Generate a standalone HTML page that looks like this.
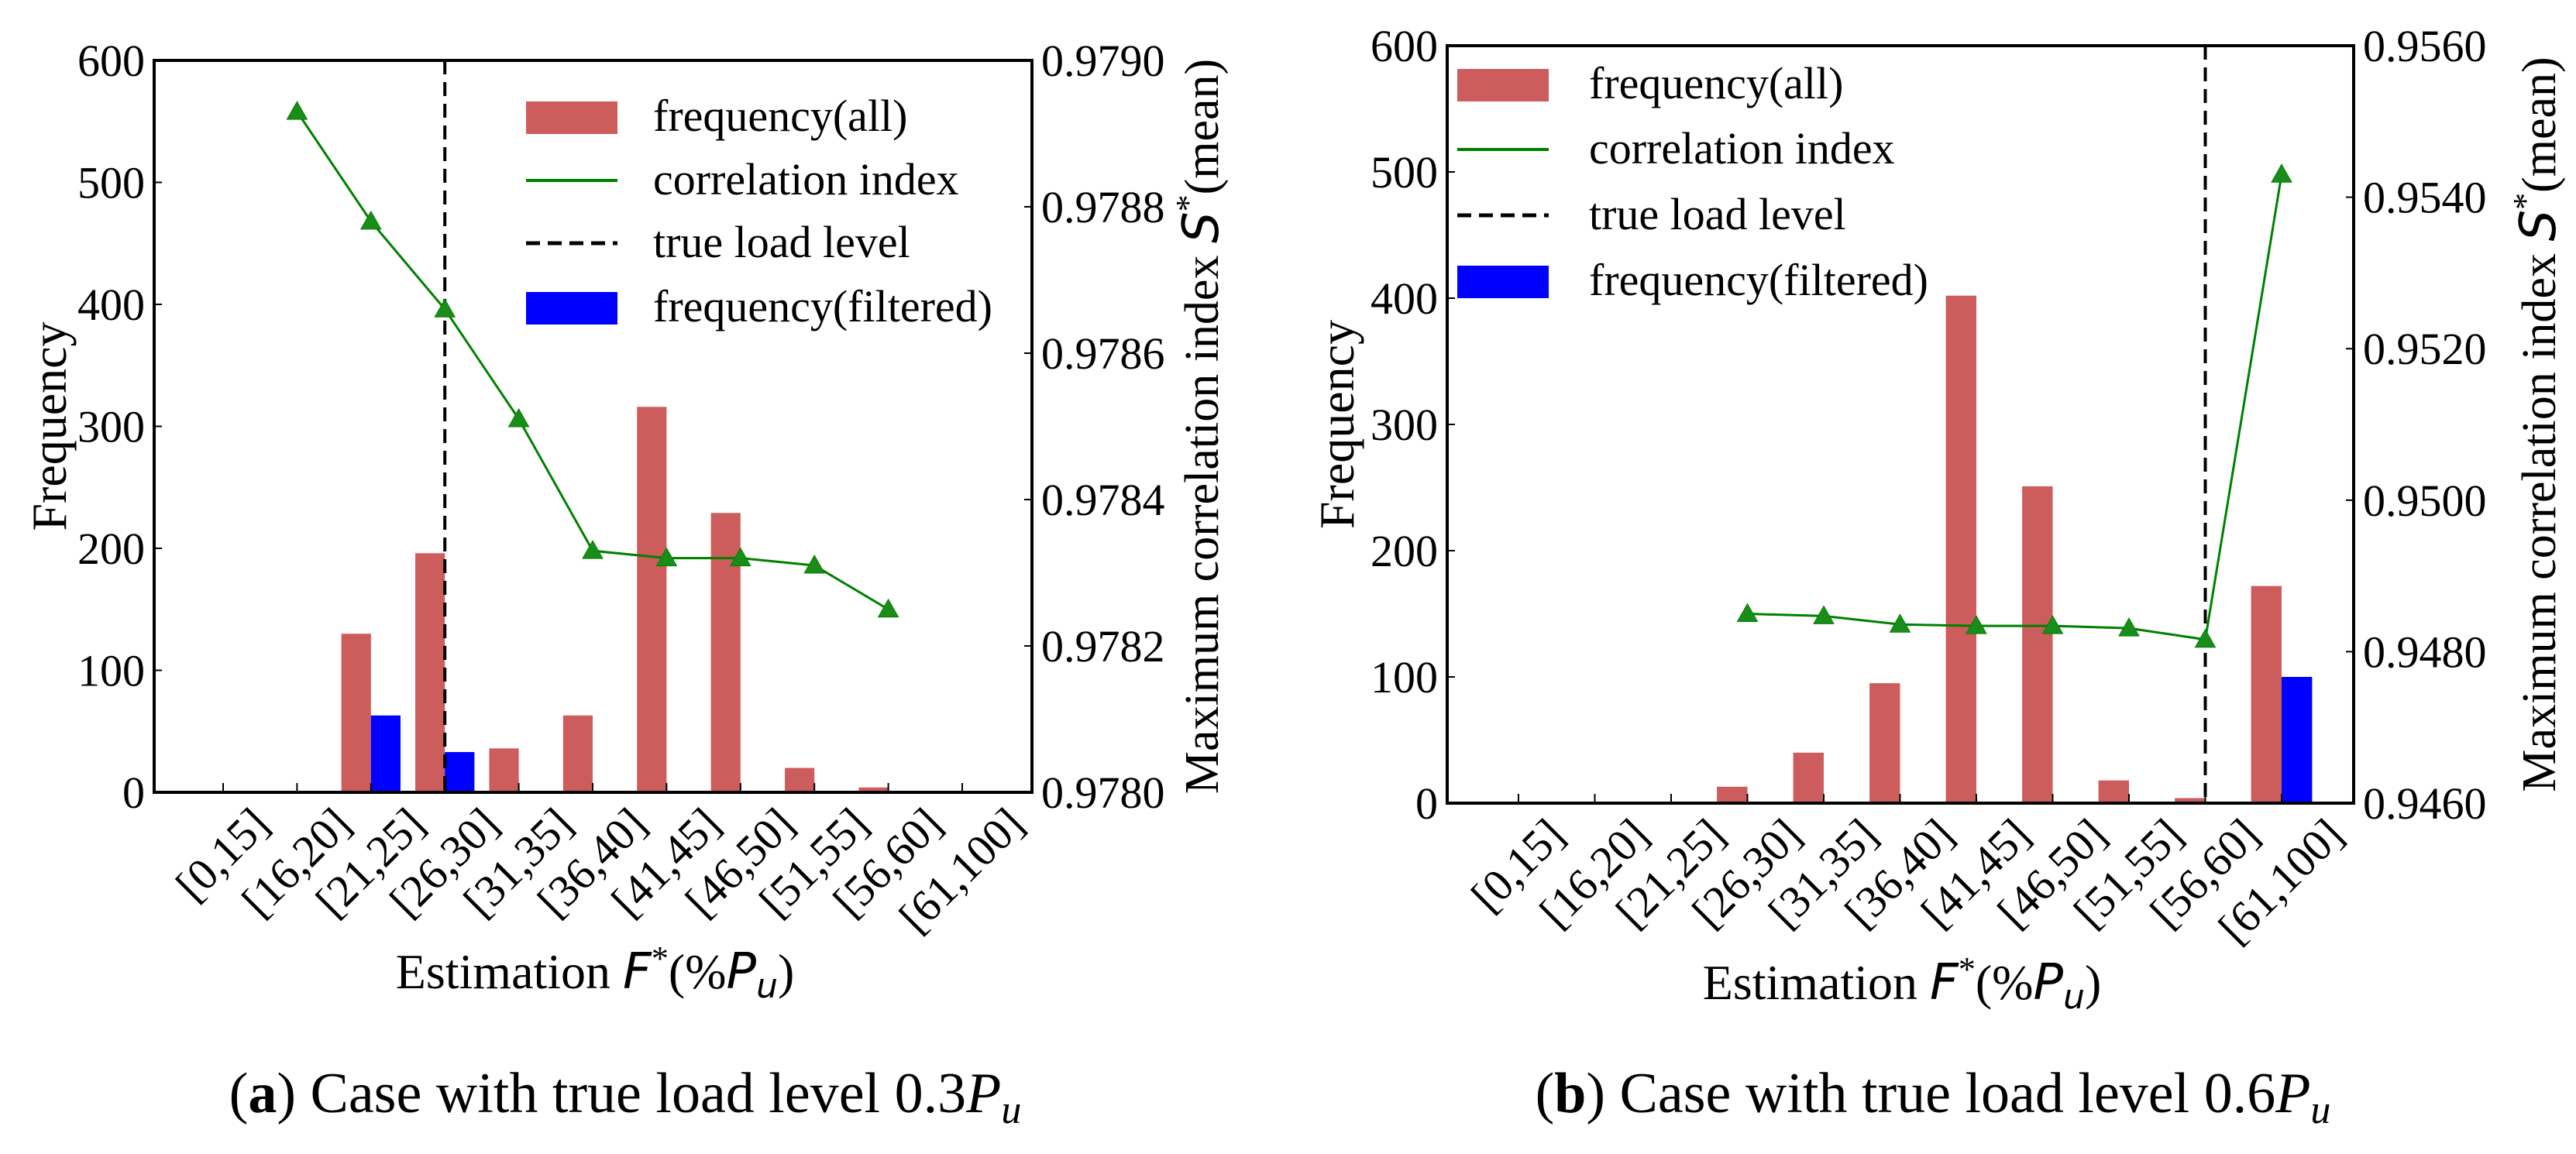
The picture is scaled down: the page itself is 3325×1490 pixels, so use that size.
<!DOCTYPE html>
<html><head><meta charset="utf-8"><style>
html,body{margin:0;padding:0;background:#fff;}
svg{display:block;}
svg text{font-family:"Liberation Serif",serif;}
</style></head><body>
<svg id="fig" width="3325" height="1490" viewBox="0 0 3325 1490" xmlns="http://www.w3.org/2000/svg" font-family="Liberation Serif, serif">
<rect width="3325" height="1490" fill="#fff"/>
<g id="chartA"></g>
<g id="chartB"></g>
<text x="807" y="1436" font-size="74" font-family="Liberation Serif, serif" text-anchor="middle">(<tspan font-weight="bold">a</tspan>) Case with true load level 0.3<tspan font-style="italic">P</tspan><tspan font-style="italic" font-size="52" dy="14">u</tspan></text>
<text x="2495" y="1436" font-size="74" font-family="Liberation Serif, serif" text-anchor="middle">(<tspan font-weight="bold">b</tspan>) Case with true load level 0.6<tspan font-style="italic">P</tspan><tspan font-style="italic" font-size="52" dy="14">u</tspan></text>
</svg>
<script>
const categories = ["[0,15]","[16,20]","[21,25]","[26,30]","[31,35]","[36,40]","[41,45]","[46,50]","[51,55]","[56,60]","[61,100]"];
const freqTicks = [0,100,200,300,400,500,600];
// chart a
const aFreqAll = [0,1,130,196,36,63,316,229,20,4,0];
const aFreqFiltered = [0,1,63,33,1,0,0,0,0,0,0];
const aCorrIdx = [1,2,3,4,5,6,7,8,9];
const aCorrVal = [0.97893,0.97878,0.97866,0.97851,0.97833,0.97832,0.97832,0.97831,0.97825];
const aTrueLoadIdx = 3;
const aRightTicks = ["0.9780","0.9782","0.9784","0.9786","0.9788","0.9790"];
// chart b
const bFreqAll = [0,0,0,13,40,95,402,251,18,4,172];
const bFreqFiltered = [0,0,0,0,0,0,0,0,0,0,100];
const bCorrIdx = [3,4,5,6,7,8,9,10];
const bCorrVal = [0.94850,0.94847,0.94836,0.94834,0.94834,0.94831,0.94816,0.95430];
const bTrueLoadIdx = 9;
const bRightTicks = ["0.9460","0.9480","0.9500","0.9520","0.9540","0.9560"];

const NS="http://www.w3.org/2000/svg";
const SERIF="Liberation Serif, serif";
const SANS="DejaVu Sans, sans-serif";
function mk(parent,tag,attrs){const e=document.createElementNS(NS,tag);for(const k in attrs)e.setAttribute(k,attrs[k]);parent.appendChild(e);return e;}
function ts(parent,txt,attrs){const e=mk(parent,'tspan',attrs||{});e.textContent=txt;return e;}

function drawChart(g, cfg){
  const {L,R,T,B,x0,dx,rmin,rmax} = cfg;
  const xs = i => x0 + i*dx;
  const ys = v => B - (v/600)*(B-T);
  const yr = v => B - (v-rmin)/(rmax-rmin)*(B-T);
  const bw = dx*0.4;
  cfg.all.forEach((v,i)=>{ if(v<=0) return;
    const r=mk(g,'rect',{x:xs(i)-bw,y:ys(v),width:bw,height:B-ys(v),fill:'#cd5c5c'});
    
    
  });
  cfg.filt.forEach((v,i)=>{ if(v<=0) return;
    const r=mk(g,'rect',{x:xs(i),y:ys(v),width:bw,height:B-ys(v),fill:'#0000ff'});
    
    
  });
  const dl=mk(g,'line',{x1:xs(cfg.trueIdx),x2:xs(cfg.trueIdx),y1:T,y2:B,stroke:'#000','stroke-width':4,'stroke-dasharray':'18 10'});
  
  
  const pts = cfg.cIdx.map((ci,k)=>xs(ci)+','+yr(cfg.cVal[k])).join(' ');
  const pl=mk(g,'polyline',{points:pts,fill:'none',stroke:'#008000','stroke-width':3});
  
  
  cfg.cIdx.forEach((ci,k)=>{
    const x=xs(ci), y=yr(cfg.cVal[k]);
    const m=mk(g,'polygon',{points:`${x},${y-13} ${x-13},${y+10} ${x+13},${y+10}`,fill:'#1a8c1a',stroke:'#008000','stroke-width':1});
    
    
  });
  const fr=mk(g,'rect',{x:L,y:T,width:R-L,height:B-T,fill:'none',stroke:'#000','stroke-width':4});
  
  
  freqTicks.forEach(v=>{
    const y=ys(v);
    mk(g,'line',{x1:L,x2:L+10,y1:y,y2:y,stroke:'#000','stroke-width':2});
    const t=mk(g,'text',{x:L-12,y:y+20,'font-size':58,'font-family':SERIF,'text-anchor':'end'});
    t.textContent=v;
    
    
  });
  cfg.rTicks.forEach(s=>{
    const y=yr(parseFloat(s));
    mk(g,'line',{x1:R-10,x2:R,y1:y,y2:y,stroke:'#000','stroke-width':2});
    const t=mk(g,'text',{x:R+12,y:y+20,'font-size':58,'font-family':SERIF});
    t.textContent=s;
    
    
  });
  categories.forEach((c,i)=>{
    const x=xs(i);
    mk(g,'line',{x1:x,x2:x,y1:B-12,y2:B,stroke:'#000','stroke-width':2});
    const t=mk(g,'text',{x:0,y:0,'font-size':58,'font-family':SERIF,'text-anchor':'middle'});
    t.textContent=c;
    
    
    let len=c.length*26; try{const l=t.getComputedTextLength(); if(l>0) len=l;}catch(e){}
    const h=(len+44)*0.7071;
    const cy=B+16+h/2;
    t.setAttribute('transform',`translate(${x},${cy}) rotate(-45) translate(0,18)`);
  });
  const lx=cfg.legX, tx=cfg.legTX, ry=cfg.legY;
  const lg=mk(g,'g',{});
  
  
  mk(lg,'rect',{x:lx,y:ry[0]-20,width:118,height:42,fill:'#cd5c5c'});
  mk(lg,'line',{x1:lx,x2:lx+118,y1:ry[1],y2:ry[1],stroke:'#008000','stroke-width':4});
  mk(lg,'line',{x1:lx,x2:lx+118,y1:ry[2],y2:ry[2],stroke:'#000','stroke-width':5,'stroke-dasharray':'18 10'});
  mk(lg,'rect',{x:lx,y:ry[3]-20,width:118,height:42,fill:'#0000ff'});
  ["frequency(all)","correlation index","true load level","frequency(filtered)"].forEach((s,k)=>{
    const t=mk(lg,'text',{x:tx,y:ry[k]+18,'font-size':58,'font-family':SERIF});
    t.textContent=s;
    
    
  });
  const yl=mk(g,'text',{x:0,y:0,'font-size':64,'font-family':SERIF,'text-anchor':'middle',transform:`translate(${cfg.ylX},${(T+B)/2}) rotate(-90)`});
  yl.textContent='Frequency';
  
  
  const y2=mk(g,'text',{x:0,y:0,'font-size':62,'font-family':SERIF,'text-anchor':'middle',transform:`translate(${cfg.y2X},${(T+B)/2}) rotate(-90)`});
  ts(y2,'Maximum correlation index ');
  ts(y2,'S',{'font-family':SANS,'font-style':'italic','font-size':64});
  ts(y2,'*',{dy:-24,'font-size':44});
  ts(y2,'(mean)',{dy:24});
  
  
  const xl=mk(g,'text',{x:cfg.xlX,y:cfg.xlY,'font-size':64,'font-family':SERIF,'text-anchor':'middle'});
  ts(xl,'Estimation ');
  ts(xl,'F',{'font-family':SANS,'font-style':'italic'});
  ts(xl,'*',{dy:-24,'font-size':44});
  ts(xl,'(%',{dy:24});
  ts(xl,'P',{'font-family':SANS,'font-style':'italic'});
  ts(xl,'u',{'font-family':SANS,'font-style':'italic','font-size':44,dy:12});
  ts(xl,')',{dy:-12});
  
  
}

drawChart(document.getElementById('chartA'),{
  L:199,R:1332,T:78,B:1023,x0:288,dx:95.4,rmin:0.9780,rmax:0.9790,
  all:aFreqAll,filt:aFreqFiltered,cIdx:aCorrIdx,cVal:aCorrVal,trueIdx:aTrueLoadIdx,rTicks:aRightTicks,
  legX:679,legTX:843,legY:[151,233,314,397],ylX:85,y2X:1572,xlX:768,xlY:1276
});
drawChart(document.getElementById('chartB'),{
  L:1868,R:3038,T:59,B:1037,x0:1960,dx:98.5,rmin:0.9460,rmax:0.9560,
  all:bFreqAll,filt:bFreqFiltered,cIdx:bCorrIdx,cVal:bCorrVal,trueIdx:bTrueLoadIdx,rTicks:bRightTicks,
  legX:1881,legTX:2051,legY:[109,193,278,363],ylX:1747,y2X:3298,xlX:2455,xlY:1290
});
</script>
</body></html>
